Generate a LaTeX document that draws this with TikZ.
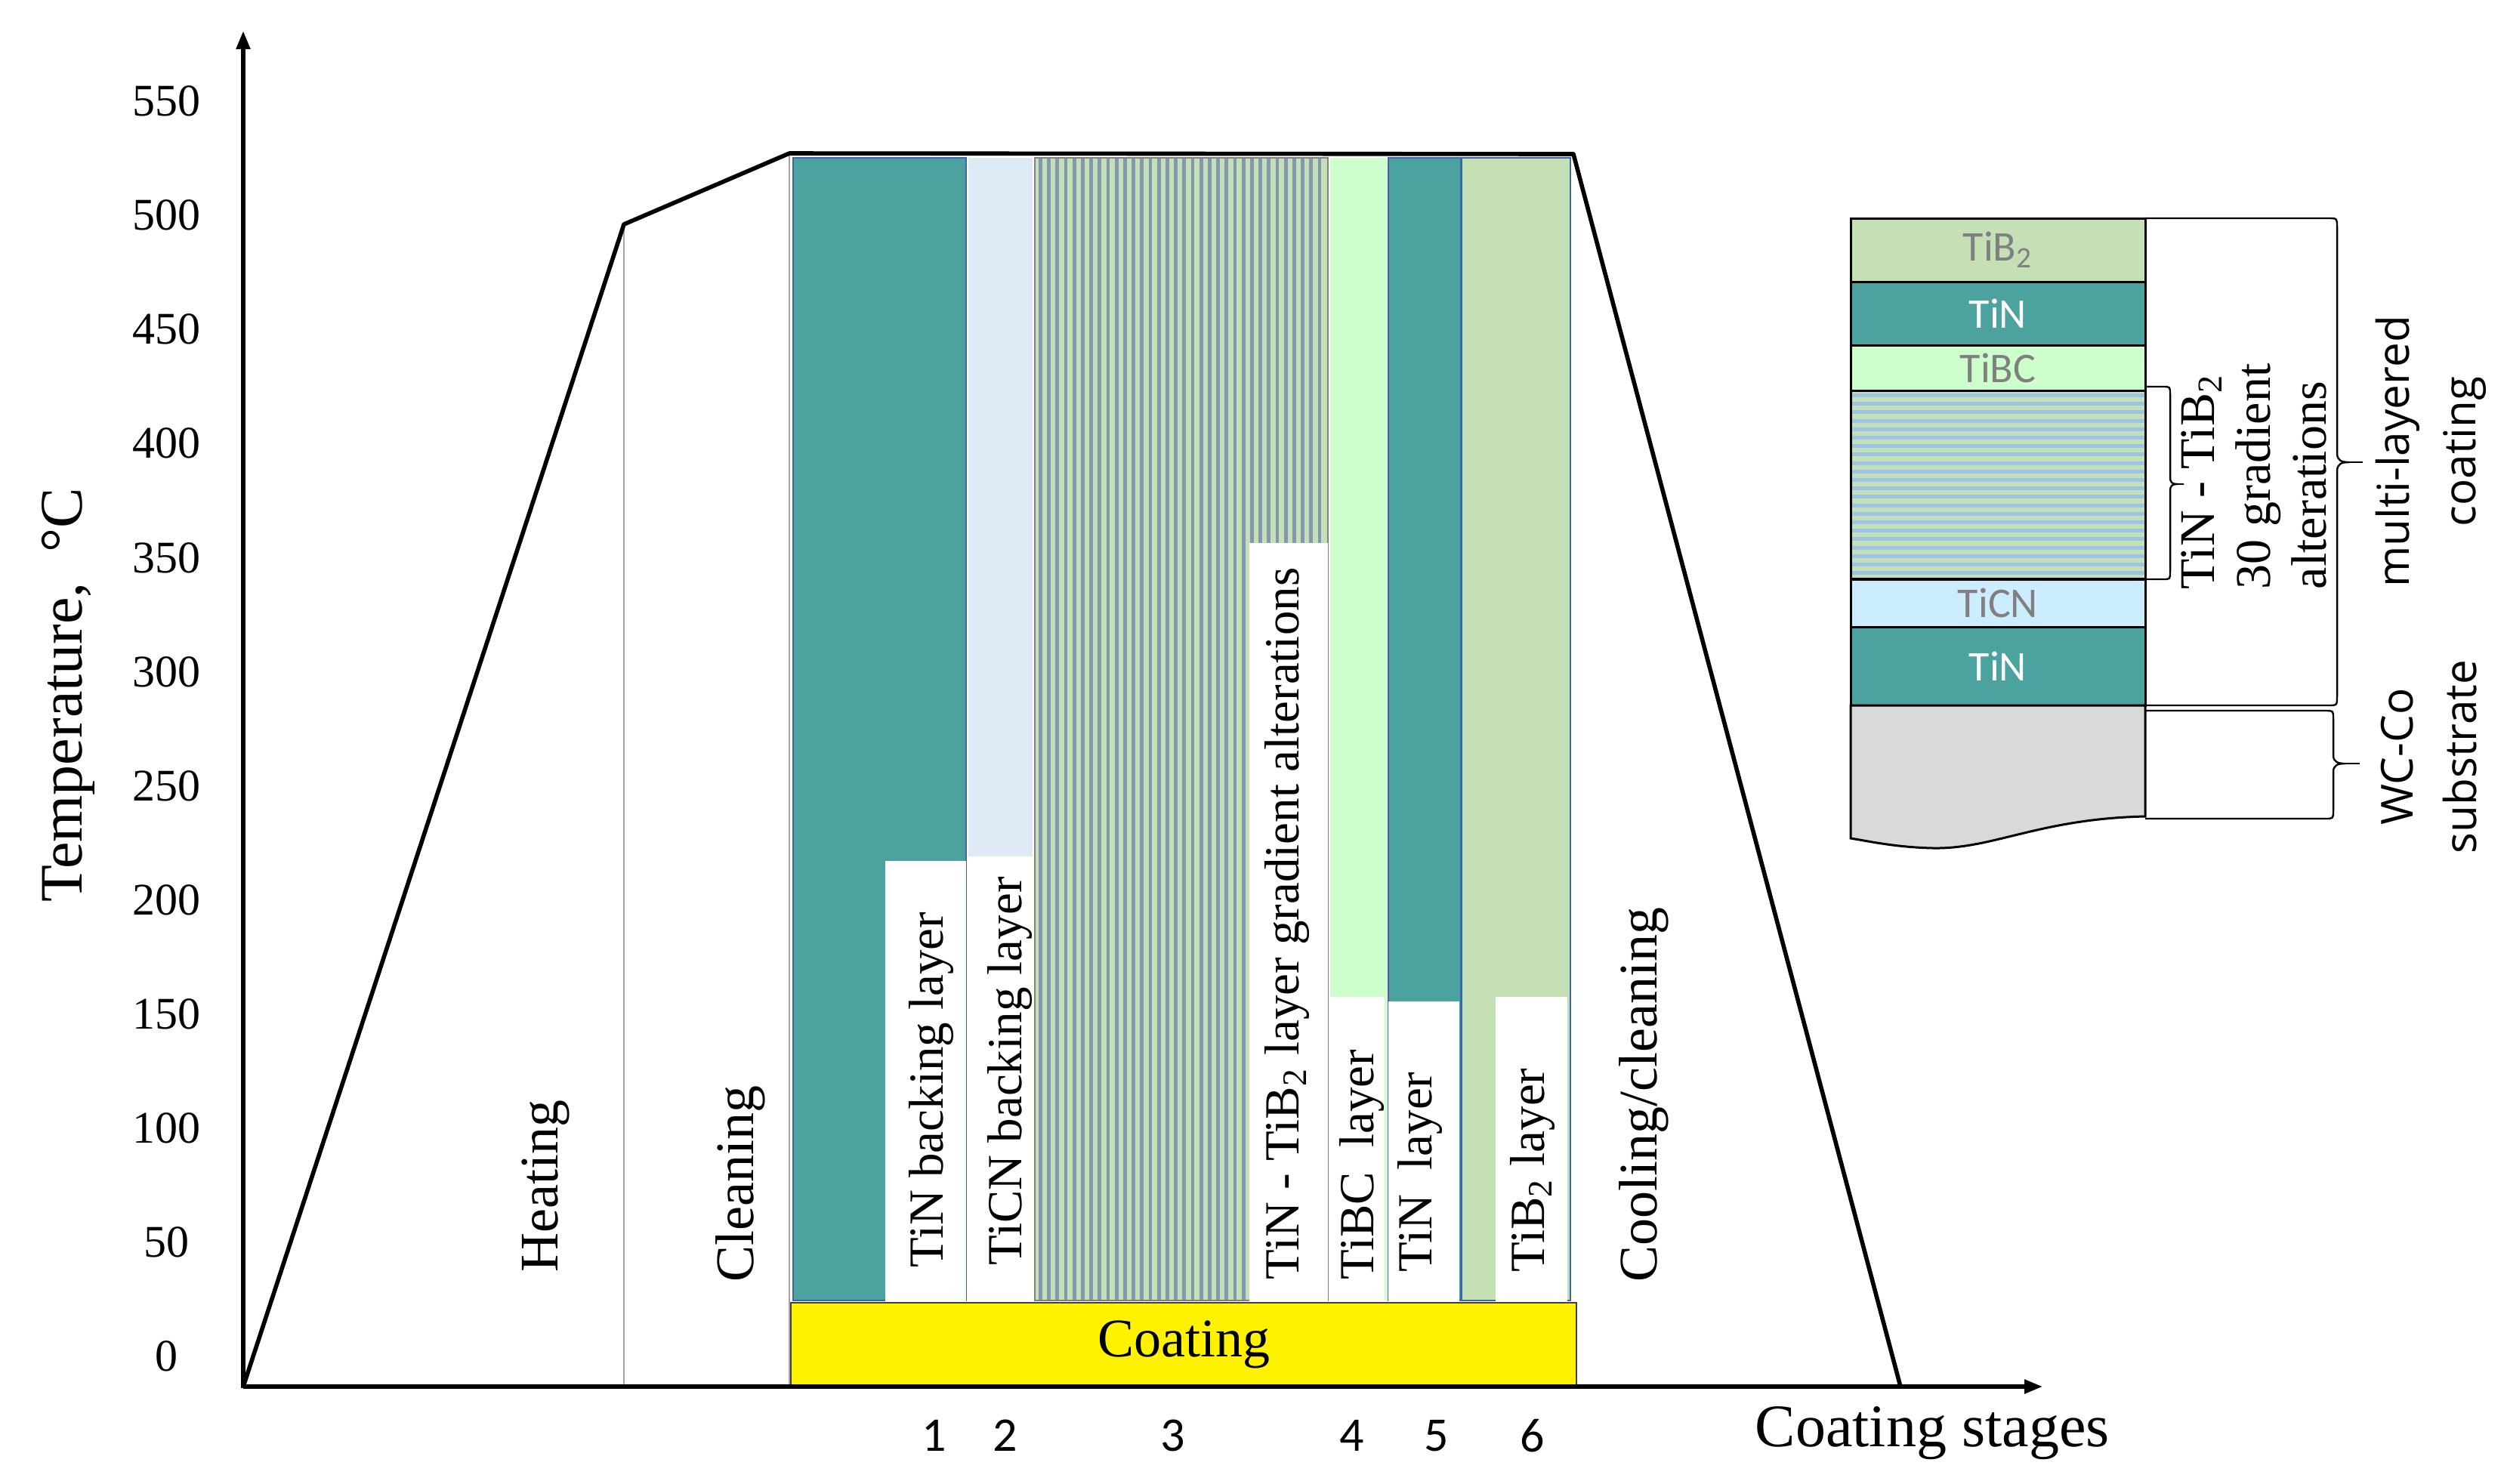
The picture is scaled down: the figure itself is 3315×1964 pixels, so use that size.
\documentclass[tikz,border=0pt]{standalone}
\usepackage{fontspec}
\setmainfont{Liberation Serif}
\newfontfamily\calib{Carlito}
\newfontfamily\osans{Open Sans}
\usetikzlibrary{arrows.meta}
\definecolor{teal1}{HTML}{4BA29E}
\definecolor{ltblue}{HTML}{DEEBF7}
\definecolor{ltgreen}{HTML}{CCFFCC}
\definecolor{tibgreen}{HTML}{C5E0B4}
\definecolor{stripeblue}{HTML}{8497B0}
\definecolor{insetblue}{HTML}{9DC3E6}
\definecolor{ticn}{HTML}{CCECFF}
\definecolor{subgray}{HTML}{D9D9D9}
\definecolor{barline}{HTML}{3E66A6}
\definecolor{txtgray}{HTML}{808080}
\tikzset{
  lbl/.style={rotate=90, anchor=west, inner sep=0pt, font=\fontsize{16.25}{18}\selectfont},
  stagelbl/.style={rotate=90, anchor=west, inner sep=0pt, font=\fontsize{18}{20}\selectfont},
  ticklbl/.style={inner sep=0pt, font=\fontsize{15}{17}\selectfont},
  stagenum/.style={inner sep=0pt, font=\calib\fontsize{16}{18}\selectfont},
  bar/.style={draw=barline, line width=0.5pt},
  whitebox/.style={fill=white},
  layer/.style={draw=black, line width=0.75pt, minimum width=97.5pt, inner sep=0pt, font=\calib\fontsize{14}{16}\selectfont},
  brace/.style={draw=black, line width=0.6pt},
  profile/.style={line width=1.4pt, line join=round},
  axis/.style={line width=1.3pt, -{Triangle[length=6pt,width=4.5pt]}},
}
\begin{document}
\begin{tikzpicture}[x=0.25pt,y=-0.25pt]
\useasboundingbox (0,0) rectangle (3315,1964);
% coordinates
\coordinate (O) at (322,1836);
\coordinate (yend) at (322,41);
\coordinate (xend) at (2704,1836);
\coordinate (p1) at (826,297);
\coordinate (p2) at (1045,203);
\coordinate (p3) at (2083,204);
\coordinate (p4) at (2516,1836);
% stage separator lines
\draw[gray!70, line width=0.5pt] (p1) -- (826,1836);
\draw[gray!70, line width=0.5pt] (p2) -- (1045,1836);
% bars
\fill[teal1] (1050,209) rectangle (1279,1722);
\draw[bar] (1050,209) rectangle (1279,1722);
\fill[ltblue] (1282,209) rectangle (1367,1722);
\fill[tibgreen] (1370,209) rectangle (1758,1722);
\foreach \i in {0,...,33} \fill[stripeblue] ({1375+11.2*\i},209) rectangle ({1379.7+11.2*\i},1722);
\draw[gray, line width=0.6pt] (1370,209) rectangle (1758,1722);
\fill[ltgreen] (1761,209) rectangle (1836,1722);
\fill[teal1] (1838,209) rectangle (1934,1722);
\draw[bar] (1838,209) rectangle (1934,1722);
\fill[tibgreen] (1935,209) rectangle (2079,1722);
\draw[bar] (1935,209) rectangle (2079,1722);
% white label boxes
\fill[whitebox] (1172,1140) rectangle (1279,1725);
\fill[whitebox] (1282,1134) rectangle (1367,1725);
\fill[whitebox] (1654,719) rectangle (1758,1725);
\fill[whitebox] (1761,1320) rectangle (1833,1725);
\fill[whitebox] (1838,1326) rectangle (1932,1725);
\fill[whitebox] (1980,1320) rectangle (2075,1725);
% coating box
\node (coat) [fill=yellow, draw=black!75, line width=0.6pt, minimum width=260pt, minimum height=27.75pt, inner sep=0pt, font=\fontsize{18}{20}\selectfont] at (1567,1780.5) {Coating};
% profile
\draw[profile] (O) -- (p1) -- (p2) -- (p3) -- (p4);
% axes
\draw[axis] (322,1838) -- (yend);
\draw[axis] (O) -- (xend);
% tick labels
\foreach \v in {0,50,...,550} \node (t\v) [ticklbl] at (220,{1796-3.0218*\v}) {\v};
\node (ylab) [rotate=90, anchor=west, inner sep=0pt, font=\fontsize{20}{22}\selectfont] at (90,1195) {Temperature,~~°C};
\node (xlab) [anchor=west, inner sep=0pt, font=\fontsize{20}{22}\selectfont] at (2323,1898) {Coating stages};
% stage labels
\node (heat) [stagelbl] at (722,1685) {Heating};
\node (clean) [stagelbl] at (980,1698) {Cleaning};
\node (cool) [stagelbl] at (2176,1698) {Cooling/cleaning};
\node (l1) [lbl] at (1233,1679) {TiN backing layer};
\node (l2) [lbl] at (1337,1676) {TiCN backing layer};
\node (l3) [lbl] at (1704,1695) {TiN - TiB\textsubscript{2} layer gradient alterations};
\node (l4) [lbl] at (1803,1695) {TiBC~~layer};
\node (l5) [lbl] at (1880,1685) {TiN~~layer};
\node (l6) [lbl] at (2029,1685) {TiB\textsubscript{2} layer};
% stage numbers
\node (n1) [stagenum] at (1237,1901) {1};
\node (n2) [stagenum] at (1331,1901) {2};
\node (n3) [stagenum] at (1553,1901) {3};
\node (n4) [stagenum] at (1790,1901) {4};
\node (n5) [stagenum] at (1902,1901) {5};
\node (n6) [stagenum] at (2029,1901) {6};
% inset
\node (iTiB) [layer, fill=tibgreen, text=txtgray, minimum height=21pt] at (2645,331) {TiB\textsubscript{2}};
\node (iTiN1) [layer, fill=teal1, text=white, minimum height=21pt] at (2645,415) {TiN};
\node (iTiBC) [layer, fill=ltgreen, text=txtgray, minimum height=15pt] at (2645,487) {TiBC};
\fill[tibgreen] (2450,517) rectangle (2840,767);
\foreach \i in {0,...,21} \fill[insetblue] (2450,{521+11.2*\i}) rectangle (2840,{526+11.2*\i});
\draw[black, line width=0.75pt] (2450,517) rectangle (2840,767);
\node (iTiCN) [layer, fill=ticn, text=txtgray, minimum height=15.75pt] at (2645,798.5) {TiCN};
\node (iTiN2) [layer, fill=teal1, text=white, minimum height=26pt] at (2645,882) {TiN};
\draw[black, line width=1.2pt] (2450,767) -- (2840,767);
\draw[black, line width=0.75pt, fill=subgray] (2450,934) -- (2840,934) -- (2840,1081)
  .. controls (2700,1084) and (2640,1124) .. (2560,1123)
  .. controls (2510,1122) and (2475,1114) .. (2450,1110) -- cycle;
% braces
\draw[brace] (2840,289) -- (3082,289) .. controls (3094,289) .. (3094,300) -- (3094,600)
  .. controls (3094,610) and (3100,612) .. (3110,612) .. controls (3100,612) and (3094,614) .. (3094,624)
  -- (3094,922) .. controls (3094,934) .. (3082,934) -- (2840,934);
\draw[brace] (3110,612) -- (3128,612);
\draw[brace] (2840,941) -- (3078,941) .. controls (3089,941) .. (3089,951) -- (3089,1000)
  .. controls (3089,1009) and (3095,1011) .. (3105,1011) .. controls (3095,1011) and (3089,1013) .. (3089,1022)
  -- (3089,1073) .. controls (3089,1084) .. (3078,1084) -- (2840,1084);
\draw[brace] (3105,1011) -- (3124,1011);
\draw[brace] (2840,512) -- (2863,512) .. controls (2873,512) .. (2873,522) -- (2873,632)
  .. controls (2873,639) and (2876,641) .. (2882,641) .. controls (2876,641) and (2873,643) .. (2873,650)
  -- (2873,757) .. controls (2873,767) .. (2863,767) -- (2840,767);
\draw[brace] (2882,641) -- (2891,641);
% inset texts
\node (grad) [rotate=90, anchor=west, align=left, inner sep=0pt, font=\fontsize{16.5}{18.5}\selectfont] at (2984,781) {TiN - TiB\textsubscript{2}\\30 gradient\\alterations};
\node (mlc) [rotate=90, align=center, inner sep=0pt, font=\osans\fontsize{14.6}{22}\selectfont] at (3218,598) {multi-layered\\coating};
\node (wcco) [rotate=90, align=center, inner sep=0pt, font=\osans\fontsize{14.6}{21}\selectfont] at (3216,1002) {WC-Co\\substrate};
\end{tikzpicture}
\end{document}
